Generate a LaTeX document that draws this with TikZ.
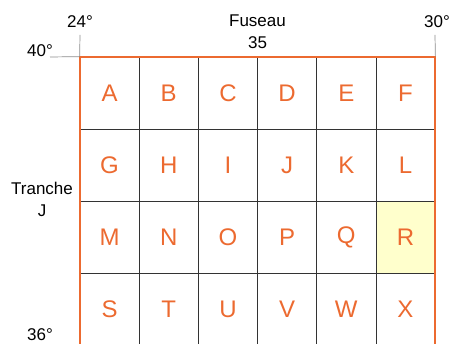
\documentclass[tikz,border=0pt]{standalone}
\usepackage{fontspec}
\setmainfont{Liberation Sans}
\usepackage{xcolor}
\usetikzlibrary{positioning}
\definecolor{zoneorange}{HTML}{EC6A30}
\definecolor{zoneyellow}{HTML}{FFFFCC}

\begin{document}
\begin{tikzpicture}[x=1pt, y=1pt,
  cell/.style={draw=black!80, line width=0.7pt, minimum width=59.17pt,
    minimum height=72pt, inner sep=0pt, text=zoneorange,
    font=\fontsize{24}{24}\selectfont},
  cellR/.style={fill=zoneyellow},
  deg/.style={font=\fontsize{17}{22}\selectfont, inner sep=2pt, align=center},
  tick/.style={draw=black!45, line width=0.7pt}]
  \useasboundingbox (0,0) rectangle (452,344);
  % carroyage 6 x 4
  \foreach \l [count=\i from 0] in {A,...,X} {
    \pgfmathtruncatemacro\c{mod(\i,6)}
    \pgfmathtruncatemacro\r{div(\i,6)}
    \node[cell, cell\l/.try] (\l) at ({109.58+59.17*\c},{251-72*\r}) {\l};
  }
  \draw[draw=zoneorange, line width=2pt] (S.south west) |- (F.north east) -- (X.south east);
  % reperes
  \node[deg] (l24) at (80,322) {24°};
  \node[deg] (l30) at (437,322) {30°};
  \node[deg] (l40) at (40,293) {40°};
  \node[deg] (l36) at (40,9) {36°};
  \node[deg] (fuseau) at (257.5,312) {Fuseau\\35};
  \node[deg] (tranche) at (42,145) {Tranche\\J};
  \coordinate (t24) at (80,309);
  \coordinate (t30) at (435,309);
  \coordinate (t40) at (50,287);
  \draw[tick] (A.north west) -- (t24);
  \draw[tick] (F.north east) -- (t30);
  \draw[tick] (A.north west) -- (t40);
\end{tikzpicture}
\end{document}
